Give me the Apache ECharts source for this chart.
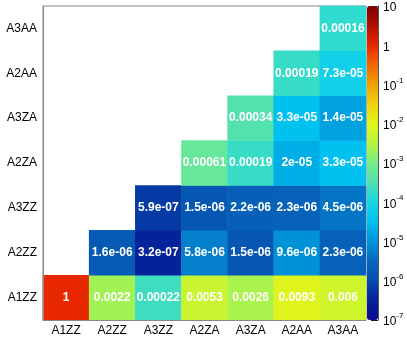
<!DOCTYPE html>
<html><head><meta charset="utf-8">
<script src="https://cdn.jsdelivr.net/npm/echarts@6/dist/echarts.min.js"></script>
<style>html,body{margin:0;padding:0;background:#fff}#c{width:407px;height:341px}</style>
</head><body><div id="c"></div>
<script>
const xCats = ['A1ZZ','A2ZZ','A3ZZ','A2ZA','A3ZA','A2AA','A3AA'];
const yCats = ['A1ZZ','A2ZZ','A3ZZ','A2ZA','A3ZA','A2AA','A3AA'];
// rows bottom to top; null = empty cell
const rowA1ZZ = [1, 0.0022, 0.00022, 0.0053, 0.0026, 0.0093, 0.006];
const rowA2ZZ = [null, 1.6e-06, 3.2e-07, 5.8e-06, 1.5e-06, 9.6e-06, 2.3e-06];
const rowA3ZZ = [null, null, 5.9e-07, 1.5e-06, 2.2e-06, 2.3e-06, 4.5e-06];
const rowA2ZA = [null, null, null, 0.00061, 0.00019, 2e-05, 3.3e-05];
const rowA3ZA = [null, null, null, null, 0.00034, 3.3e-05, 1.4e-05];
const rowA2AA = [null, null, null, null, null, 0.00019, 7.3e-05];
const rowA3AA = [null, null, null, null, null, null, 0.00016];
const rows = [rowA1ZZ, rowA2ZZ, rowA3ZZ, rowA2ZA, rowA3ZA, rowA2AA, rowA3AA];
const zMin = 1e-7, zMax = 10;
const paletteColors = ['#0c0c8a','#04229a','#064eae','#0668bc','#0094d8','#00c0f0','#18d6e4','#50e0b0','#78ec88','#b4f440','#e2f41a','#f0d010','#f0a000','#f06800','#e82800','#b01000','#780000'];

function fmt(v){
  const e = Math.floor(Math.log10(v) + 1e-9);
  if (e < -4 || e >= 2) {
    let [m, ex] = v.toExponential(1).split('e');
    m = String(parseFloat(m));
    let n = parseInt(ex, 10);
    const s = n < 0 ? '-' : '+';
    n = Math.abs(n);
    return m + 'e' + s + (n < 10 ? '0' + n : n);
  }
  return String(parseFloat(v.toPrecision(2)));
}

const data = [];
rows.forEach((r, yi) => r.forEach((v, xi) => {
  if (v != null) data.push([xi, yi, Math.log10(v), v]);
}));

const font = 'Liberation Sans, Arial, sans-serif';
const chart = echarts.init(document.getElementById('c'), null, {renderer: 'canvas'});
chart.setOption({
  animation: false,
  backgroundColor: '#fff',
  grid: [
    {left: 43, top: 6, width: 323, height: 314, show: true, borderColor: '#888', borderWidth: 1, backgroundColor: 'transparent', outerBoundsMode: 'none'},
    {left: 367, top: 6, width: 11, height: 314, outerBoundsMode: 'none'}
  ],
  xAxis: [
    {type: 'category', data: xCats, gridIndex: 0,
     axisLine: {lineStyle: {color: '#888'}},
     axisTick: {inside: true, length: 9, lineStyle: {color: '#333'}},
     axisLabel: {color: '#000', fontSize: 12, fontFamily: font, margin: 5},
     splitLine: {show: false}, z: 10},
    {type: 'value', gridIndex: 1, show: false, min: 0, max: 1}
  ],
  yAxis: [
    {type: 'category', data: yCats, gridIndex: 0,
     axisLine: {lineStyle: {color: '#888'}},
     axisTick: {inside: true, length: 10, lineStyle: {color: '#888'}},
     axisLabel: {color: '#000', fontSize: 12, fontFamily: font, margin: 6},
     splitLine: {show: false}, z: 10},
    {type: 'log', logBase: 10, gridIndex: 1, min: zMin, max: zMax, position: 'right',
     axisLine: {show: true, onZero: false, lineStyle: {color: '#555'}},
     axisTick: {show: true, inside: true, length: 7, lineStyle: {color: '#222'}},
     minorTick: {show: true, splitNumber: 9, length: 3, lineStyle: {color: '#222'}},
     axisLabel: {color: '#000', fontFamily: font, margin: 5,
       formatter: function(v){
         const e = Math.round(Math.log10(v));
         if (e === 1) return '{b|10}';
         if (e === 0) return '{b|1}';
         return '{b|10}{s|' + e + '}';
       },
       rich: {b: {fontSize: 12, fontFamily: font, color: '#000', lineHeight: 16, verticalAlign: 'bottom'},
              s: {fontSize: 8, fontFamily: font, color: '#000', lineHeight: 16, verticalAlign: 'top'}}},
     splitLine: {show: false}}
  ],
  visualMap: {
    type: 'continuous', min: Math.log10(zMin), max: Math.log10(zMax), dimension: 2, seriesIndex: 0,
    calculable: false, hoverLink: false, realtime: false,
    left: 367, top: 6, padding: 0, itemWidth: 11, itemHeight: 314, text: null, showLabel: false,
    inRange: {color: paletteColors}
  },
  series: [
    {type: 'heatmap', xAxisIndex: 0, yAxisIndex: 0, data: data,
     itemStyle: {borderWidth: 0},
     label: {show: true, color: '#fff', fontSize: 12, fontWeight: 'bold', fontFamily: font,
       formatter: p => fmt(p.data[3])}},
    {type: 'scatter', xAxisIndex: 1, yAxisIndex: 1, data: [], silent: true}
  ]
});
</script></body></html>
